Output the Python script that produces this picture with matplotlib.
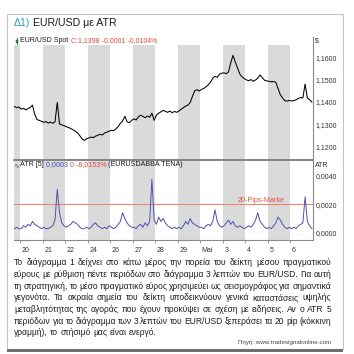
import numpy as np
import matplotlib
matplotlib.use("Agg")
import matplotlib.pyplot as plt
from matplotlib.patches import Rectangle
from matplotlib.lines import Line2D
from matplotlib.ticker import FuncFormatter
import matplotlib.transforms as mtransforms

FAM = ['Liberation Sans', 'DejaVu Sans']
plt.rcParams['font.family'] = FAM

# ---------------- data ----------------
t0 = -0.25          # first sample (in trading days from "20")
step = 0.1          # sample spacing in days

price = [
    1.1380, 1.1374, 1.1378, 1.1368, 1.1372, 1.1365, 1.1370, 1.1376, 1.1386, 1.1345,
    1.1322, 1.1318, 1.1314, 1.1309, 1.1313, 1.1306, 1.1311, 1.1305, 1.1312, 1.1398,
    1.1302, 1.1298, 1.1295, 1.1290, 1.1286, 1.1282, 1.1276, 1.1270, 1.1262, 1.1250,
    1.1236, 1.1229, 1.1236, 1.1240, 1.1244, 1.1241, 1.1248, 1.1252, 1.1256, 1.1253,
    1.1262, 1.1266, 1.1270, 1.1274, 1.1272, 1.1280, 1.1290, 1.1305, 1.1315, 1.1336,
    1.1312, 1.1308, 1.1318, 1.1325, 1.1320, 1.1334, 1.1341, 1.1336, 1.1330, 1.1338,
    1.1332, 1.1350, 1.1318, 1.1342, 1.1350, 1.1356, 1.1363, 1.1358, 1.1354, 1.1360,
    1.1352, 1.1358, 1.1354, 1.1360, 1.1368, 1.1375, 1.1382, 1.1386, 1.1398, 1.1425,
    1.1450, 1.1455, 1.1449, 1.1456, 1.1460, 1.1468, 1.1476, 1.1488, 1.1506, 1.1514,
    1.1510, 1.1524, 1.1528, 1.1530, 1.1526, 1.1534, 1.1575, 1.1608, 1.1578, 1.1552,
    1.1525, 1.1512, 1.1504, 1.1498, 1.1495, 1.1500, 1.1492, 1.1498, 1.1506, 1.1520,
    1.1508, 1.1497, 1.1494, 1.1492, 1.1490, 1.1491, 1.1488, 1.1460, 1.1432, 1.1418,
    1.1406, 1.1404, 1.1407, 1.1405, 1.1406, 1.1410, 1.1416, 1.1420, 1.1418, 1.1480,
    1.1418, 1.1410, 1.1400,
]

atr_pips = [
    3, 4, 3, 3, 5, 4, 6, 5, 8, 6,
    5, 4, 3, 4, 3, 3, 4, 5, 9, 30,
    14, 7, 5, 4, 5, 6, 8, 7, 6, 4,
    3, 3, 4, 3, 4, 6, 7, 5, 4, 3,
    4, 3, 5, 4, 3, 4, 6, 8, 14, 10,
    7, 5, 4, 4, 3, 5, 6, 4, 7, 5,
    8, 37, 9, 6, 11, 8, 10, 7, 5, 4,
    3, 4, 3, 4, 3, 5, 8, 6, 10, 7,
    6, 5, 4, 4, 3, 5, 6, 5, 8, 16,
    8, 5, 4, 5, 7, 9, 6, 8, 5, 4,
    5, 4, 3, 4, 5, 4, 6, 9, 14, 8,
    6, 4, 3, 4, 3, 5, 7, 11, 9, 6,
    4, 3, 4, 3, 4, 3, 5, 6, 7, 25,
    8, 5, 3,
]

day_labels = ['20', '21', '22', '24', '26', '27', '28', '29', 'Mai', '3', '4', '5', '6']
price_ticks = [1.12, 1.13, 1.14, 1.15, 1.16]
atr_ticks = [0.0, 0.002, 0.004]
pips_mark = 0.0020

title_num = 'Δ1)'
title_txt = 'EUR/USD με ATR'
body_lines = [
    'Το διάγραμμα 1 δείχνει στο κάτω μέρος την πορεία του δείκτη μέσου πραγματικού',
    'εύρους με ρύθμιση πέντε περιόδων στο διάγραμμα 3 λεπτών του EUR/USD. Για αυτή',
    'τη στρατηγική, το μέσο πραγματικό εύρος χρησιμεύει ως σεισμογράφος για σημαντικά',
    'γεγονότα. Τα ακραία σημεία του δείκτη υποδεικνύουν γενικά καταστάσεις υψηλής',
    'μεταβλητότητας της αγοράς που έχουν προκύψει σε σχέση με ειδήσεις. Αν ο ATR 5',
    'περιόδων για το διάγραμμα των 3 λεπτών του EUR/USD ξεπεράσει τα 20 pip (κόκκινη',
    'γραμμή), το στήσιμό μας είναι ενεργό.',
]
source_txt = 'Πηγή: www.tradesignalonline.com'

# ---------------- figure ----------------
W = H = 354
fig = plt.figure(figsize=(W / 100, H / 100), dpi=100)
fig.patch.set_facecolor('white')


def fx(x):
    return x / W


def fy(y):
    return 1 - y / H


def ax_rect(x0, y0, x1, y1):
    return [fx(x0), fy(y1), fx(x1) - fx(x0), fy(y0) - fy(y1)]


# outer frame
fig.add_artist(Rectangle((fx(7), fy(349)), fx(343) - fx(7), fy(14) - fy(349),
                         transform=fig.transFigure, fill=False, ec='#c4c4c4', lw=0.8))
fig.add_artist(Rectangle((fx(7), fy(352)), fx(343) - fx(7), fy(348.5) - fy(352),
                         transform=fig.transFigure, fc='#6e6e6e', ec='none'))

# title
tn = fig.text(fx(14), fy(23), title_num, fontsize=7.6, color='#2fa4b8', va='center', ha='left')
fig.canvas.draw()
r = fig.canvas.get_renderer()
wb = tn.get_window_extent(r).width
fig.text(fx(14) + (wb + 2.5) / W, fy(23), title_txt, fontsize=7.6, color='#1a1a1a',
         va='center', ha='left')

t = t0 + step * np.arange(len(price))
atr = np.array(atr_pips) * 0.0001

x_left, x_right = -0.27, 13.0

ax1 = fig.add_axes(ax_rect(14, 45, 313, 160))
ax2 = fig.add_axes(ax_rect(14, 161, 313, 240))

for ax in (ax1, ax2):
    ax.set_facecolor('white')
    for d in range(-1, 13, 2):
        ax.axvspan(d, d + 1, color='#dadada', lw=0, zorder=0)
    ax.set_xlim(x_left, x_right)
    ax.spines['top'].set_visible(False)
    ax.spines['left'].set_visible(False)
    ax.spines['right'].set_color('#8a8a8a')
    ax.spines['right'].set_linewidth(0.8)
    ax.yaxis.tick_right()
    ax.tick_params(axis='y', length=0, pad=2, labelsize=5, labelcolor='#333333')

ax1.spines['bottom'].set_visible(False)
ax1.plot(t, price, color='black', lw=0.75, zorder=3)
ax1.set_ylim(1.11417, 1.16538)
ax1.set_yticks(price_ticks)
ax1.yaxis.set_major_formatter(FuncFormatter(lambda v, p: f'{v:.4f}'.replace('.', ',')))
ax1.set_xticks([])

ax2.plot(t, atr, color='#4f4fae', lw=0.7, zorder=3)
ax2.axhline(pips_mark, color='#e58a72', lw=0.8, zorder=2)
ax2.set_ylim(-0.00048, 0.00497)
ax2.set_yticks(atr_ticks)
ax2.yaxis.set_major_formatter(FuncFormatter(lambda v, p: f'{v:.4f}'.replace('.', ',')))
ax2.spines['bottom'].set_color('#8a8a8a')
ax2.spines['bottom'].set_linewidth(0.8)
ax2.set_xticks(range(len(day_labels)))
ax2.set_xticklabels(day_labels)
ax2.tick_params(axis='x', length=2.2, width=0.6, color='#8a8a8a', pad=2.5,
                labelsize=5, labelcolor='#333333')
off = mtransforms.ScaledTranslation(1.5 / 100, 0, fig.dpi_scale_trans)
for lab in ax2.get_xticklabels():
    lab.set_horizontalalignment('left')
    lab.set_transform(lab.get_transform() + off)

ax2.text(0.905, pips_mark, '20-Pips-Marke', transform=ax2.get_yaxis_transform(),
         ha='right', va='bottom', fontsize=5.2, color='#e0553c')

# panel separator and spine extension
fig.add_artist(Line2D([fx(14), fx(313)], [fy(160), fy(160)], transform=fig.transFigure,
                      color='#7a7a7a', lw=1.3))
fig.add_artist(Line2D([fx(313), fx(313)], [fy(37), fy(45)], transform=fig.transFigure,
                      color='#8a8a8a', lw=0.8))

# axis unit labels
fig.text(fx(315), fy(41), '$', fontsize=5, color='#333333', va='center', ha='left')
fig.text(fx(315), fy(165.5), 'ATR', fontsize=5, color='#333333', va='center', ha='left')

# header lines


def run_text(x, y, parts, fs=5.0):
    fig.canvas.draw()
    rr = fig.canvas.get_renderer()
    cx = x
    for s, c in parts:
        tt = fig.text(fx(cx), fy(y), s, fontsize=fs, color=c, va='center', ha='left')
        cx += tt.get_window_extent(rr).width


fig.add_artist(Line2D([fx(17), fx(17)], [fy(38), fy(44)], transform=fig.transFigure,
                      color='#1f6b2a', lw=0.6))
fig.add_artist(Rectangle((fx(15.8), fy(42.5)), 2.4 / W, 3 / H, transform=fig.transFigure,
                         fc='#2e9a3c', ec='#1f6b2a', lw=0.3))
run_text(20.5, 41, [('EUR/USD Spot ', '#1a1a1a'), ('C:1,1398 -0,0001 -0,0104%', '#e0483a')], fs=5.0)
fig.text(fx(13.5), fy(165), '∿', fontsize=5, color='#555555', va='center', ha='left',
         family=['DejaVu Sans'])
run_text(20, 165, [('ATR [5] ', '#1a1a1a'), ('0,0003 ', '#3b4fb0'),
                   ('0 -8,0153% ', '#e0483a'), ('(EURUSDABBA TENA)', '#1a1a1a')], fs=5.1)

# justified body text
fig.canvas.draw()
rend = fig.canvas.get_renderer()
X0, X1 = 14.0, 331.0
FS = 6.15
y_lines = [262.5, 274.3, 286.1, 297.9, 309.5, 321.2, 332.8]
for i, (line, yy) in enumerate(zip(body_lines, y_lines)):
    words = line.split(' ')
    objs = [fig.text(0, fy(yy), w, fontsize=FS, color='#1e1e1e', va='center', ha='left')
            for w in words]
    widths = [o.get_window_extent(rend).width for o in objs]
    if i < len(body_lines) - 1:
        gap = (X1 - X0 - sum(widths)) / (len(words) - 1)
    else:
        sp = fig.text(0, 0, 'a a', fontsize=FS)
        sp2 = fig.text(0, 0, 'aa', fontsize=FS)
        gap = sp.get_window_extent(rend).width - sp2.get_window_extent(rend).width
        sp.remove()
        sp2.remove()
    cx = X0
    for o, w in zip(objs, widths):
        o.set_x(fx(cx))
        cx += w + gap

fig.text(fx(331), fy(342), source_txt, fontsize=4.5, color='#444444', va='center', ha='right')

fig.savefig('out.png', dpi=100, facecolor='white')
